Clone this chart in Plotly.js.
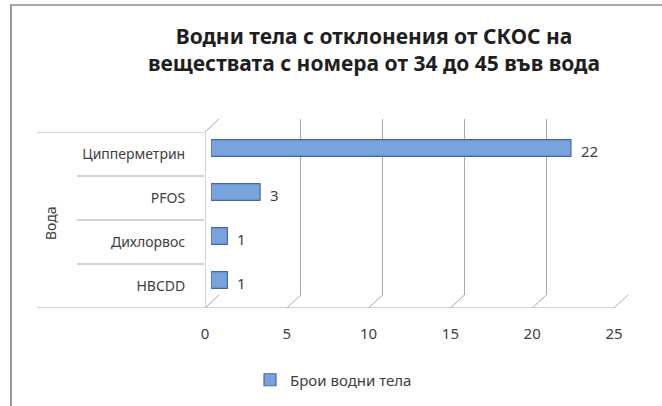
<!DOCTYPE html>
<html><head><meta charset="utf-8">
<script src="https://cdn.plot.ly/plotly-3.0.1.min.js"></script>
<style>html,body{margin:0;padding:0;background:#fff}#chart{width:662px;height:406px}</style>
</head><body><div id="chart"></div>
<script>
// ---- data ----
const categories = ["HBCDD", "Дихлорвос", "PFOS", "Ципперметрин"];
const values = [1, 1, 3, 22];
const seriesName = "Брои водни тела";
const groupLabel = "Вода";
const xTicks = [0, 5, 10, 15, 20, 25];
const titleText = "Водни тела с отклонения от СКОС на<br>веществата с номера от 34 до 45 във вода";

// ---- layout helpers ----
const W = 662, H = 406;
const fx = p => p / W;
const fy = p => 1 - p / H;
const front = {x0: 205, x1: 614, y0: 132, y1: 308};
const depth = {dx: 14, dy: -13};
const barOff = {dx: 6, dy: -6};
const xMax = 25;
const FONT = "Noto Sans, Open Sans, sans-serif";
const txt = "#404040";
const grid = "#a8a8a8";

function dom(o, dx, dy) {
  return {x: [fx(o.x0 + dx), fx(o.x1 + dx)], y: [fy(o.y1 + dy), fy(o.y0 + dy)]};
}
const dF = dom(front, 0, 0), dB = dom(front, depth.dx, depth.dy), dR = dom(front, barOff.dx, barOff.dy);
const px = v => front.x0 + v / xMax * (front.x1 - front.x0);

const shapes = [];
// outer border (top and left)
shapes.push({type: "line", xref: "paper", yref: "paper", x0: fx(10), x1: 1, y0: fy(5), y1: fy(5), line: {color: "#8c8c8c", width: 1.5}});
shapes.push({type: "line", xref: "paper", yref: "paper", x0: fx(11), x1: fx(11), y0: fy(5), y1: 0, line: {color: "#9a9a9a", width: 2}});
// category separator lines
for (let k = 0; k <= categories.length; k++) {
  const outer = (k === 0 || k === categories.length);
  shapes.push({type: "line", xref: "paper", yref: "y", x0: fx(outer ? 37 : 77), x1: k === 0 ? fx(front.x1) : fx(front.x0 - 1),
    y0: k - 0.5, y1: k - 0.5, line: {color: grid, width: 1}});
}
// left wall front edge
shapes.push({type: "line", xref: "x", yref: "y", x0: 0, x1: 0, y0: -0.5, y1: categories.length - 0.5, line: {color: grid, width: 1}});
// top-left slant
shapes.push({type: "line", xref: "paper", yref: "paper", x0: fx(px(0)), y0: fy(front.y0), x1: fx(px(0) + depth.dx), y1: fy(front.y0 + depth.dy), line: {color: grid, width: 1}});
// floor slants at each tick
xTicks.forEach(v => {
  shapes.push({type: "line", xref: "paper", yref: "paper", x0: fx(px(v)), y0: fy(front.y1), x1: fx(px(v) + depth.dx), y1: fy(front.y1 + depth.dy), line: {color: grid, width: 1}});
});

const traces = [
  {type: "scatter", x: categories.map(() => 0), y: categories, xaxis: "x", yaxis: "y", mode: "markers",
   marker: {opacity: 0}, showlegend: false, hoverinfo: "skip"},
  {type: "scatter", x: [0], y: [0], xaxis: "x2", yaxis: "y2", mode: "markers",
   marker: {opacity: 0}, showlegend: false, hoverinfo: "skip"},
  {type: "bar", orientation: "h", name: seriesName, x: values, y: categories, xaxis: "x3", yaxis: "y3",
   width: 0.38, marker: {color: "#79a3dc", line: {color: "#44699f", width: 1.2}}, hoverinfo: "skip"}
];

// value labels placed next to each bar end
const valueLabels = values.map((v, i) => ({
  text: String(v), xref: "x3", yref: "y", x: v, y: categories[i], xanchor: "left", yanchor: "middle",
  xshift: 8, yshift: 3, showarrow: false, font: {family: FONT, size: 15, color: txt}
}));

const layout = {
  width: W, height: H, margin: {l: 0, r: 0, t: 0, b: 0},
  paper_bgcolor: "#fff", plot_bgcolor: "rgba(0,0,0,0)",
  font: {family: FONT, color: txt},
  title: {text: titleText, x: fx(374), xanchor: "center", y: fy(44), yanchor: "middle",
          font: {family: FONT, size: 21, color: "#1f1f1f", weight: "bold"}},
  showlegend: true,
  legend: {orientation: "h", x: fx(250), xanchor: "left", y: fy(380), yanchor: "middle",
           font: {family: FONT, size: 15, color: txt}, bgcolor: "rgba(0,0,0,0)"},
  xaxis: {domain: dF.x, range: [0, xMax], anchor: "y", tickvals: xTicks, ticktext: xTicks.map(String),
          showgrid: false, zeroline: false, showline: false, ticks: "outside", ticklen: 12, tickcolor: "rgba(0,0,0,0)",
          tickfont: {family: FONT, size: 15, color: txt}, fixedrange: true},
  yaxis: {domain: dF.y, type: "category", categoryorder: "array", categoryarray: categories, range: [-0.5, categories.length - 0.5],
          anchor: "x", showgrid: false, zeroline: false, showline: false, ticks: "outside", ticklen: 16, tickcolor: "rgba(0,0,0,0)",
          tickfont: {family: FONT, size: 14, color: txt}, fixedrange: true},
  xaxis2: {domain: dB.x, range: [0, xMax], anchor: "y2", tickvals: xTicks, showticklabels: false,
           showgrid: true, gridcolor: grid, gridwidth: 1, zeroline: false, showline: false, ticks: "", fixedrange: true},
  yaxis2: {domain: dB.y, range: [0, 1], anchor: "x2", showgrid: false, zeroline: false, showline: false, showticklabels: false, ticks: "", fixedrange: true},
  xaxis3: {domain: dR.x, range: [0, xMax], anchor: "y3", showgrid: false, zeroline: false, showline: false, showticklabels: false, ticks: "", fixedrange: true},
  yaxis3: {domain: dR.y, type: "category", categoryorder: "array", categoryarray: categories, range: [-0.5, categories.length - 0.5],
           anchor: "x3", showgrid: false, zeroline: false, showline: false, showticklabels: false, ticks: "", fixedrange: true},
  shapes: shapes,
  annotations: [{text: groupLabel, xref: "paper", yref: "paper", x: fx(50), y: fy(223), textangle: -90, showarrow: false,
                 font: {family: FONT, size: 14, color: txt}, xanchor: "center", yanchor: "middle"}].concat(valueLabels)
};

Plotly.newPlot("chart", traces, layout, {displayModeBar: false, staticPlot: true});
</script></body></html>
